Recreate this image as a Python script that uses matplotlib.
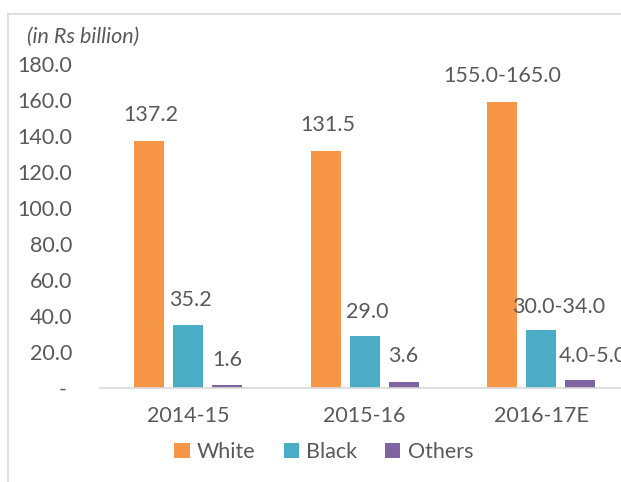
import numpy as np
import matplotlib.pyplot as plt
from matplotlib.lines import Line2D

# Data (range values plotted at their midpoint)
years = ["2014-15", "2015-16", "2016-17E"]
white = [137.2, 131.5, 159.0]
black = [35.2, 29.0, 32.0]
others = [1.6, 3.6, 4.5]
white_labels = ["137.2", "131.5", "155.0-165.0"]
black_labels = ["35.2", "29.0", "30.0-34.0"]
others_labels = ["1.6", "3.6", "4.0-5.0"]
yticks = [0, 20, 40, 60, 80, 100, 120, 140, 160, 180]

plt.rcParams['font.family'] = ['Lato', 'DejaVu Sans']
text_col = "#595959"
fs = 15.5

fig = plt.figure(figsize=(6.21, 4.82), dpi=100)
W, H = 621, 482
ax = fig.add_axes([100 / W, (H - 388) / H, (W - 100) / W, (388 - 64) / H])

x = np.arange(len(years))
w = 0.17
step = 0.221
# label nudges (x in category units, y in data units) as placed in the original
series = [(white, white_labels, "#F79646", "White", [0.01, 0.01, 0.0], [14.5, 14.5, 14.5]),
          (black, black_labels, "#4BACC6", "Black", [0.015, 0.015, 0.10], [13.5, 13.5, 13.0]),
          (others, others_labels, "#8064A2", "Others", [0.0, 0.0, 0.07], [14.0, 14.0, 13.0])]
for i, (vals, labs, col, name, dx, dy) in enumerate(series):
    pos = x + (i - 1) * step
    ax.bar(pos, vals, width=w, color=col, label=name)
    for j in range(len(vals)):
        ax.text(pos[j] + dx[j], vals[j] + dy[j], labs[j], ha="center", va="center",
                fontsize=fs, color=text_col, clip_on=False)

ax.set_xlim(-0.5, 2.453)
ax.set_ylim(0, 180)
ax.set_yticks(yticks)
ax.set_yticklabels(["- "] + ["%.1f" % v for v in yticks[1:]])
ax.set_xticks(x)
ax.set_xticklabels(years)
ax.tick_params(axis="both", length=0, labelsize=fs, colors=text_col)
ax.tick_params(axis="y", pad=20)
ax.tick_params(axis="x", pad=13)
for s in ["top", "right", "left"]:
    ax.spines[s].set_visible(False)
ax.spines["bottom"].set_color("#D9D9D9")
ax.spines["bottom"].set_linewidth(1.2)

fig.text(27 / W, 1 - 37 / H, "(in Rs billion)", style="italic", fontsize=15.5,
         color=text_col, va="center")

fig.legend(loc="center", bbox_to_anchor=(324 / W, 1 - 452 / H), ncol=3, frameon=False,
           fontsize=fs, handlelength=0.7, handleheight=0.7, handletextpad=0.35,
           columnspacing=1.3, labelcolor=text_col)

# outer frame
fig.add_artist(Line2D([8 / W, 8 / W], [0, 1 - 14 / H], color="#D9D9D9", lw=1.2))
fig.add_artist(Line2D([8 / W, 1], [1 - 14 / H, 1 - 14 / H], color="#D9D9D9", lw=1.2))

fig.savefig("out.png", dpi=100)
